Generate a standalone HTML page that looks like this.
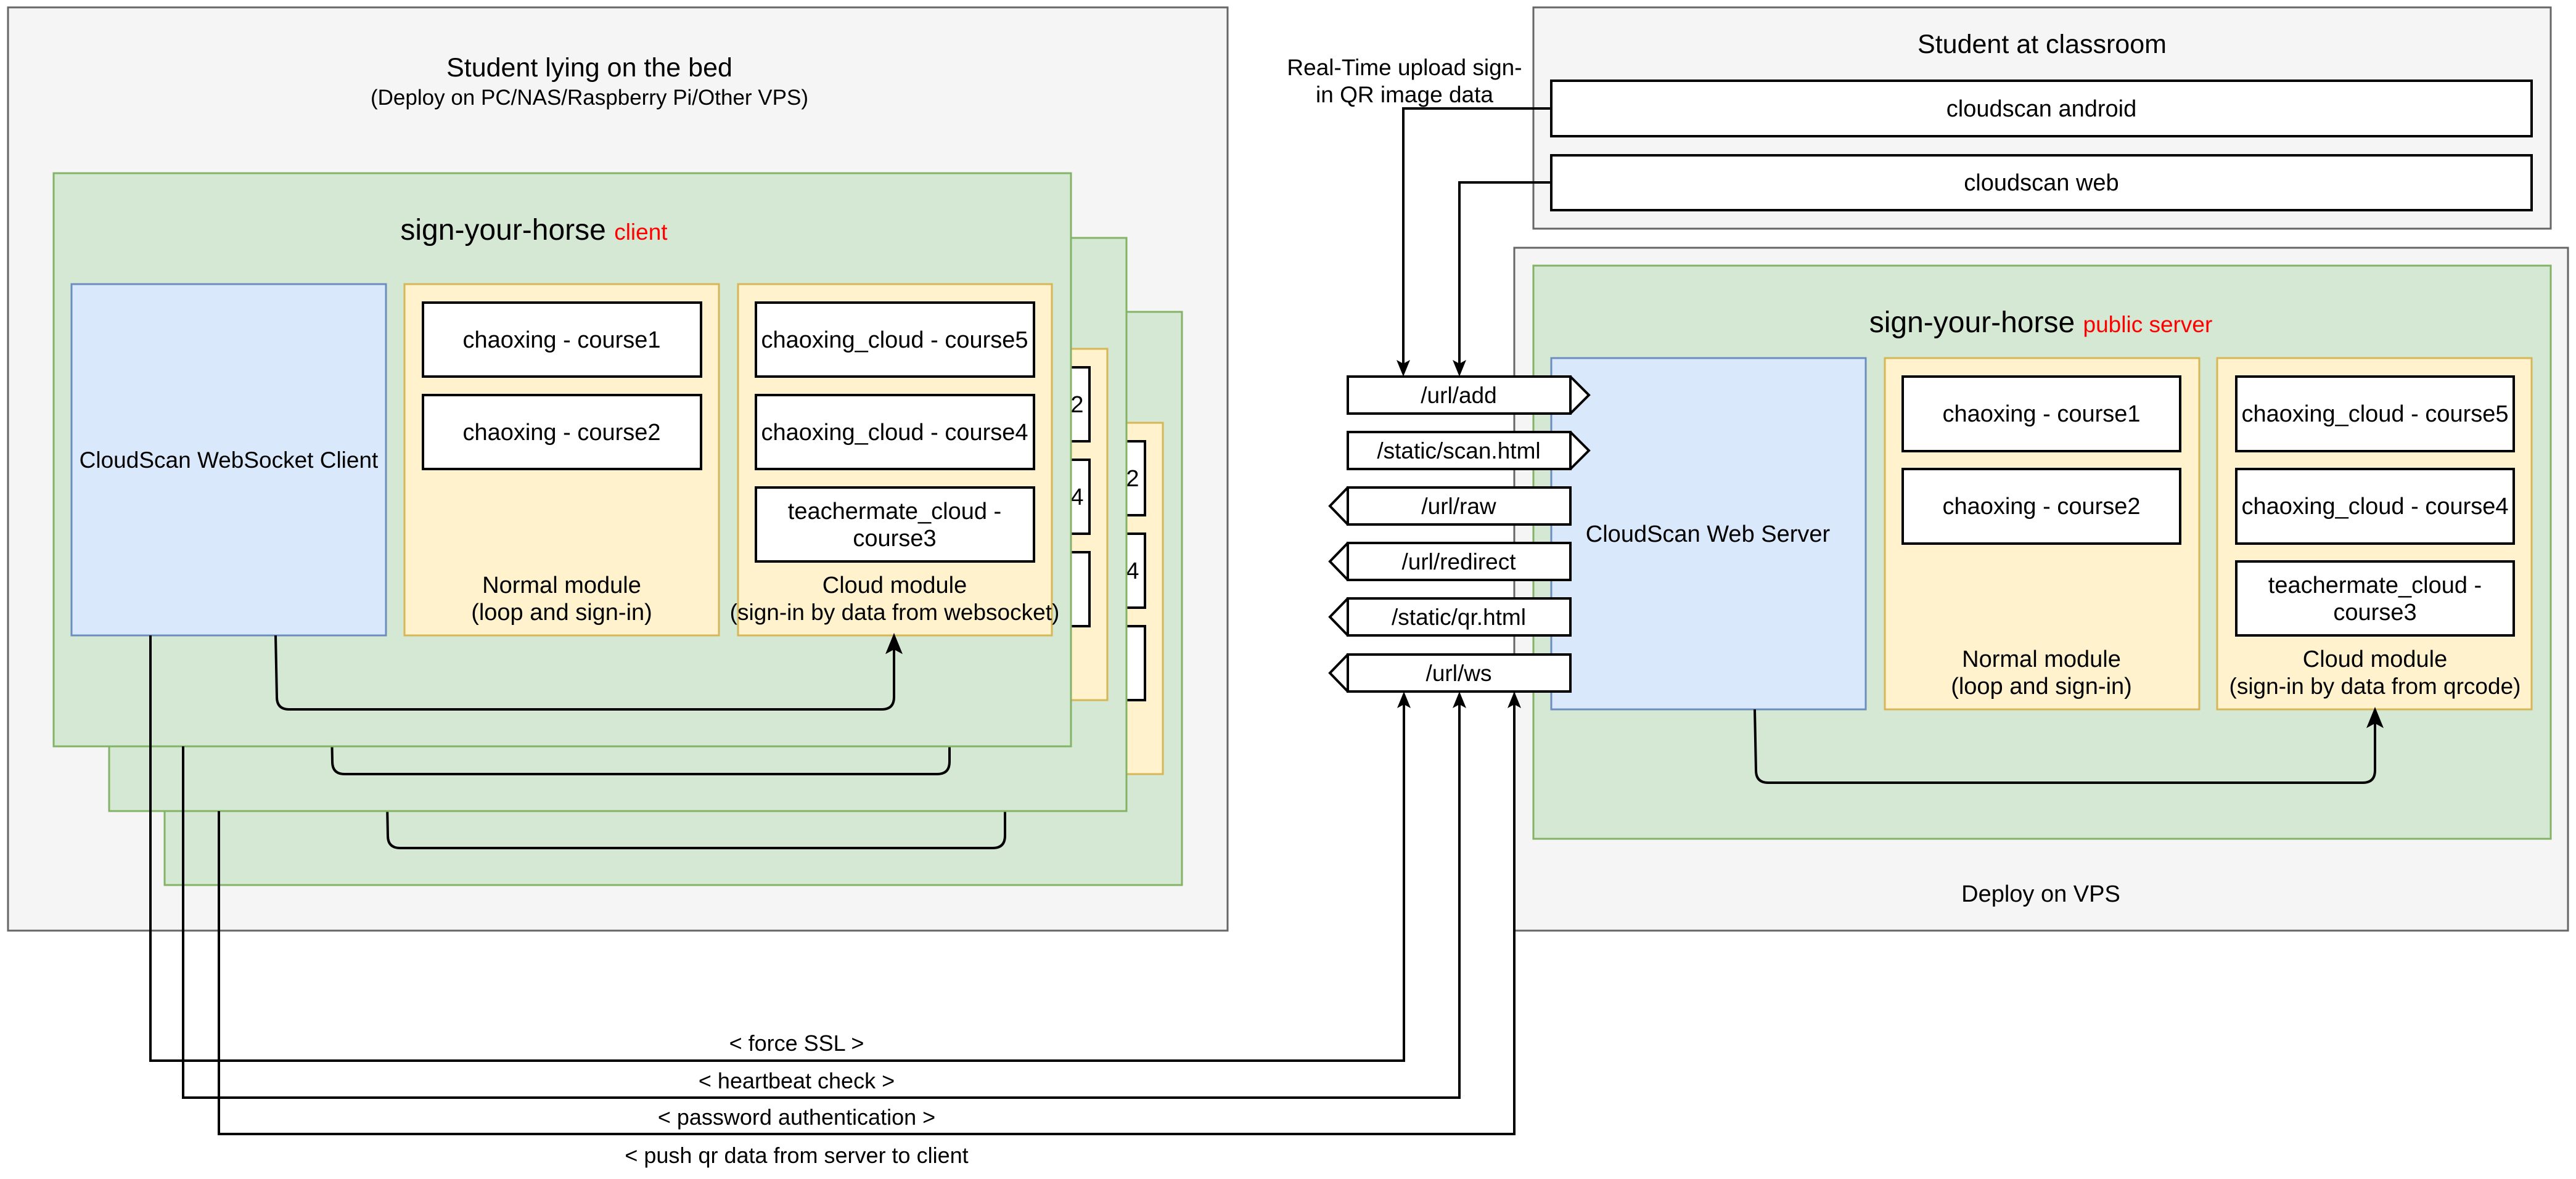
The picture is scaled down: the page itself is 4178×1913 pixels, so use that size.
<!DOCTYPE html>
<html><head><meta charset="utf-8"><style>
html,body{margin:0;padding:0;background:#fff;}
svg{display:block;}
text{font-family:"Liberation Sans",sans-serif;fill:#000;}
</style></head><body>
<svg width="4178" height="1913" viewBox="0 0 4178 1913" xmlns="http://www.w3.org/2000/svg">

<!-- Left outer container -->
<rect x="13" y="12" width="1978" height="1498" fill="#f5f5f5" stroke="#666" stroke-width="3"/>
<text x="956" y="124" font-size="43" text-anchor="middle">Student lying on the bed</text>
<text x="956" y="170" font-size="35" text-anchor="middle">(Deploy on PC/NAS/Raspberry Pi/Other VPS)</text>

<!-- Layer 3 -->
<g transform="translate(180,225)">
<rect x="87" y="281" width="1650" height="930" fill="#d5e8d4" stroke="#82b366" stroke-width="3"/>
<rect x="1197" y="461" width="509" height="570" fill="#fff2cc" stroke="#d6b656" stroke-width="3"/>
<rect x="1226" y="491" width="451" height="120" fill="#fff" stroke="#000" stroke-width="4"/>
<rect x="1226" y="641" width="451" height="120" fill="#fff" stroke="#000" stroke-width="4"/>
<rect x="1226" y="791" width="451" height="120" fill="#fff" stroke="#000" stroke-width="4"/>
<text x="1451" y="564" font-size="38" text-anchor="middle">chaoxing_cloud - course2</text>
<text x="1451" y="714" font-size="38" text-anchor="middle">chaoxing_cloud - course4</text>
<path d="M447,1031 L449,1131 Q449,1151 469,1151 L1430,1151 Q1450,1151 1450,1131 L1450,1045" fill="none" stroke="#000" stroke-width="4"/>
</g>
<!-- Layer 2 -->
<g transform="translate(90,105)">
<rect x="87" y="281" width="1650" height="930" fill="#d5e8d4" stroke="#82b366" stroke-width="3"/>
<rect x="1197" y="461" width="509" height="570" fill="#fff2cc" stroke="#d6b656" stroke-width="3"/>
<rect x="1226" y="491" width="451" height="120" fill="#fff" stroke="#000" stroke-width="4"/>
<rect x="1226" y="641" width="451" height="120" fill="#fff" stroke="#000" stroke-width="4"/>
<rect x="1226" y="791" width="451" height="120" fill="#fff" stroke="#000" stroke-width="4"/>
<text x="1451" y="564" font-size="38" text-anchor="middle">chaoxing_cloud - course2</text>
<text x="1451" y="714" font-size="38" text-anchor="middle">chaoxing_cloud - course4</text>
<path d="M447,1031 L449,1131 Q449,1151 469,1151 L1430,1151 Q1450,1151 1450,1131 L1450,1045" fill="none" stroke="#000" stroke-width="4"/>
</g>
<!-- Front layer -->
<rect x="87" y="281" width="1650" height="930" fill="#d5e8d4" stroke="#82b366" stroke-width="3"/>
<text x="866" y="389" font-size="48" text-anchor="middle">sign-your-horse <tspan fill="#ff0000" font-size="37">client</tspan></text>
<rect x="116" y="461" width="510" height="570" fill="#dae8fc" stroke="#6c8ebf" stroke-width="3"/>
<text x="371" y="759" font-size="37" text-anchor="middle">CloudScan WebSocket Client</text>
<rect x="656" y="461" width="510" height="570" fill="#fff2cc" stroke="#d6b656" stroke-width="3"/>
<rect x="686" y="491" width="451" height="120" fill="#fff" stroke="#000" stroke-width="4"/>
<rect x="686" y="641" width="451" height="120" fill="#fff" stroke="#000" stroke-width="4"/>
<text x="911" y="564" font-size="38" text-anchor="middle">chaoxing - course1</text>
<text x="911" y="714" font-size="38" text-anchor="middle">chaoxing - course2</text>
<text x="911" y="962" font-size="38" text-anchor="middle">Normal module</text>
<text x="911" y="1006" font-size="38" text-anchor="middle">(loop and sign-in)</text>
<rect x="1197" y="461" width="509" height="570" fill="#fff2cc" stroke="#d6b656" stroke-width="3"/>
<rect x="1226" y="491" width="451" height="120" fill="#fff" stroke="#000" stroke-width="4"/>
<rect x="1226" y="641" width="451" height="120" fill="#fff" stroke="#000" stroke-width="4"/>
<rect x="1226" y="791" width="451" height="120" fill="#fff" stroke="#000" stroke-width="4"/>
<text x="1451" y="564" font-size="38" text-anchor="middle">chaoxing_cloud - course5</text>
<text x="1451" y="714" font-size="38" text-anchor="middle">chaoxing_cloud - course4</text>
<text x="1451" y="842" font-size="38" text-anchor="middle">teachermate_cloud -</text>
<text x="1451" y="886" font-size="38" text-anchor="middle">course3</text>
<text x="1451" y="962" font-size="38" text-anchor="middle">Cloud module</text>
<text x="1451" y="1006" font-size="37" text-anchor="middle">(sign-in by data from websocket)</text>
<path d="M447,1031 L449,1131 Q449,1151 469,1151 L1430,1151 Q1450,1151 1450,1131 L1450,1050" fill="none" stroke="#000" stroke-width="4"/>
<path d="M1450,1031 L1461,1058 L1450,1052 L1439,1058 Z" fill="#000" stroke="#000" stroke-width="3"/>

<!-- Right: classroom -->
<rect x="2487" y="12" width="1650" height="359" fill="#f5f5f5" stroke="#666" stroke-width="3"/>
<text x="3312" y="86" font-size="43" text-anchor="middle">Student at classroom</text>
<rect x="2516" y="131" width="1590" height="90" fill="#fff" stroke="#000" stroke-width="4"/>
<text x="3311" y="189" font-size="38" text-anchor="middle">cloudscan android</text>
<rect x="2516" y="252" width="1590" height="89" fill="#fff" stroke="#000" stroke-width="4"/>
<text x="3311" y="309" font-size="38" text-anchor="middle">cloudscan web</text>

<!-- VPS -->
<rect x="2456" y="402" width="1709" height="1108" fill="#f5f5f5" stroke="#666" stroke-width="3"/>
<text x="3310" y="1463" font-size="38" text-anchor="middle">Deploy on VPS</text>
<rect x="2487" y="431" width="1650" height="930" fill="#d5e8d4" stroke="#82b366" stroke-width="3"/>
<text x="3310" y="539" font-size="48" text-anchor="middle">sign-your-horse <tspan fill="#ff0000" font-size="37">public server</tspan></text>
<rect x="2516" y="581" width="510" height="570" fill="#dae8fc" stroke="#6c8ebf" stroke-width="3"/>
<text x="2770" y="879" font-size="38" text-anchor="middle">CloudScan Web Server</text>
<rect x="3057" y="581" width="510" height="570" fill="#fff2cc" stroke="#d6b656" stroke-width="3"/>
<rect x="3086" y="611" width="450" height="121" fill="#fff" stroke="#000" stroke-width="4"/>
<rect x="3086" y="761" width="450" height="121" fill="#fff" stroke="#000" stroke-width="4"/>
<text x="3311" y="684" font-size="38" text-anchor="middle">chaoxing - course1</text>
<text x="3311" y="834" font-size="38" text-anchor="middle">chaoxing - course2</text>
<text x="3311" y="1082" font-size="38" text-anchor="middle">Normal module</text>
<text x="3311" y="1126" font-size="38" text-anchor="middle">(loop and sign-in)</text>
<rect x="3596" y="581" width="510" height="570" fill="#fff2cc" stroke="#d6b656" stroke-width="3"/>
<rect x="3627" y="611" width="450" height="121" fill="#fff" stroke="#000" stroke-width="4"/>
<rect x="3627" y="761" width="450" height="121" fill="#fff" stroke="#000" stroke-width="4"/>
<rect x="3627" y="911" width="450" height="120" fill="#fff" stroke="#000" stroke-width="4"/>
<text x="3852" y="684" font-size="38" text-anchor="middle">chaoxing_cloud - course5</text>
<text x="3852" y="834" font-size="38" text-anchor="middle">chaoxing_cloud - course4</text>
<text x="3852" y="962" font-size="38" text-anchor="middle">teachermate_cloud -</text>
<text x="3852" y="1006" font-size="38" text-anchor="middle">course3</text>
<text x="3852" y="1082" font-size="38" text-anchor="middle">Cloud module</text>
<text x="3852" y="1126" font-size="37" text-anchor="middle">(sign-in by data from qrcode)</text>
<path d="M2846,1151 L2848,1250 Q2848,1270 2868,1270 L3832,1270 Q3852,1270 3852,1250 L3852,1170" fill="none" stroke="#000" stroke-width="4"/>
<path d="M3852,1151 L3863,1178 L3852,1172 L3841,1178 Z" fill="#000" stroke="#000" stroke-width="3"/>

<!-- Endpoints -->
<g fill="#fff" stroke="#000" stroke-width="4">
<path d="M2186,611 L2547,611 L2547,671 L2186,671 Z M2547,611 L2577,641 L2547,671"/>
<path d="M2186,701 L2547,701 L2547,761 L2186,761 Z M2547,701 L2577,731 L2547,761"/>
<path d="M2186,791 L2547,791 L2547,851 L2186,851 Z M2186,791 L2157,821 L2186,851"/>
<path d="M2186,881 L2547,881 L2547,941 L2186,941 Z M2186,881 L2157,911 L2186,941"/>
<path d="M2186,971 L2547,971 L2547,1031 L2186,1031 Z M2186,971 L2157,1001 L2186,1031"/>
<path d="M2186,1062 L2547,1062 L2547,1122 L2186,1122 Z M2186,1062 L2157,1092 L2186,1122"/>
</g>
<g font-size="37" text-anchor="middle">
<text x="2366" y="654">/url/add</text>
<text x="2366" y="744">/static/scan.html</text>
<text x="2366" y="834">/url/raw</text>
<text x="2366" y="924">/url/redirect</text>
<text x="2366" y="1014">/static/qr.html</text>
<text x="2366" y="1105">/url/ws</text>
</g>

<!-- upload label & arrows -->
<text x="2278" y="122" font-size="37" text-anchor="middle">Real-Time upload sign-</text>
<text x="2278" y="166" font-size="37" text-anchor="middle">in QR image data</text>
<g fill="none" stroke="#000" stroke-width="4">
<path d="M2516,176 L2276,176 L2276,590"/>
<path d="M2516,296 L2367,296 L2367,590"/>
<path d="M244,1031 L244,1721 L2277,1721 L2277,1143"/>
<path d="M297,1211 L297,1781 L2367,1781 L2367,1143"/>
<path d="M355,1316 L355,1840 L2456,1840 L2456,1143"/>
</g>
<g fill="#000">
<path d="M2276,611 L2265,584 L2276,590 L2287,584 Z"/>
<path d="M2367,611 L2356,584 L2367,590 L2378,584 Z"/>
<path d="M2277,1122 L2266,1149 L2277,1143 L2288,1149 Z"/>
<path d="M2367,1122 L2356,1149 L2367,1143 L2378,1149 Z"/>
<path d="M2456,1122 L2445,1149 L2456,1143 L2467,1149 Z"/>
</g>
<g font-size="36" text-anchor="middle">
<text x="1292" y="1705">&lt; force SSL &gt;</text>
<text x="1292" y="1766">&lt; heartbeat check &gt;</text>
<text x="1292" y="1825">&lt; password authentication &gt;</text>
<text x="1292" y="1887">&lt; push qr data from server to client</text>
</g>
</svg>
</body></html>
